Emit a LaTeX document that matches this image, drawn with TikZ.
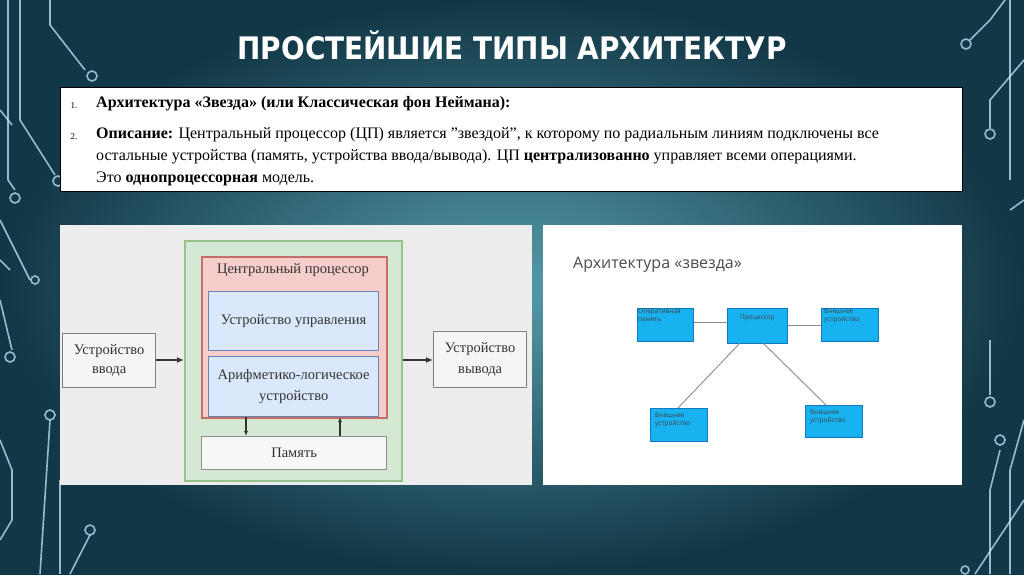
\documentclass[tikz,border=0pt]{standalone}
\usepackage{fontspec}
\setmainfont{Liberation Serif}
\newfontfamily\sansf{Open Sans}
\newfontfamily\titlef{DejaVu Sans Condensed}
\usetikzlibrary{arrows.meta}
\begin{document}
\begin{tikzpicture}[x=1pt,y=-1pt,
  sbox/.style={fill={rgb,255:red,25;green,178;blue,240},draw={rgb,255:red,20;green,120;blue,190},line width=0.8pt},
  tiny/.style={font=\sansf\fontsize{6.5}{8}\selectfont,text=black!75,align=left,anchor=north west,inner sep=1pt},
  lbl/.style={font=\fontsize{14.5}{17}\selectfont,text=black!80,align=center},
  circ/.style={draw=cyan!30!white!80,line width=1.6pt,fill=none},
  arr/.style={-{Latex[length=7pt,width=6pt]},line width=1.8pt,draw=black!80},
  conn/.style={draw=black!45,line width=0.9pt}]
\useasboundingbox (0,0) rectangle (1024,574);
\shade[inner color={rgb,255:red,85;green,155;blue,170},outer color={rgb,255:red,18;green,55;blue,70}]
  (0,0) rectangle (1024,574);
% circuit decorations
\begin{scope}[circ,draw opacity=0.75]
\draw (50,0) -- (50,25) -- (85,70); \draw (92,76) circle (5);
\draw (20,0) -- (20,120) -- (55,175); \draw (58,181) circle (5);
\draw (8,0) -- (8,180) -- (15,190); \draw (15,198) circle (5);
\draw (0,110) -- (12,125); \draw (0,300) -- (12,350); \draw (10,357) circle (5);
\draw (0,440) -- (12,470) -- (12,520) -- (0,540);
\draw (0,260) -- (10,270);
\draw (60,480) -- (60,574); \draw (50,415) circle (5); \draw (50,420) -- (40,574);
\draw (90,530) circle (5); \draw (90,535) -- (70,574);
\draw (1005,0) -- (990,20) -- (970,40); \draw (966,44) circle (5);
\draw (1024,60) -- (990,100) -- (990,128); \draw (990,134) circle (5);
\draw (1010,0) -- (1010,180); \draw (1024,200) -- (1010,210);
\draw (990,340) -- (990,395); \draw (990,402) circle (5);
\draw (1000,450) -- (990,490) -- (990,574);
\draw (1000,440) circle (5); \draw (1024,420) -- (1010,470) -- (1010,574);
\draw (965,570) circle (4); \draw (1024,500) -- (975,574);
\draw (0,220) -- (30,280); \draw (35,280) circle (4);
\end{scope}
% title
\node[font=\titlef\bfseries\fontsize{31}{36}\selectfont,text=white] (title) at (512,45) {ПРОСТЕЙШИЕ ТИПЫ АРХИТЕКТУР};
% text box
\node[draw=black,line width=1.2pt,fill=white,minimum width=902,minimum height=104,anchor=north west,inner sep=0] (tb) at (60,87) {};
\node[anchor=north west,font=\fontsize{9}{10}\selectfont] (n1) at (67,99) {1.};
\node[anchor=north west,font=\fontsize{9}{10}\selectfont] (n2) at (67,130) {2.};
\node[anchor=north west,inner sep=0,font=\fontsize{16}{23}\selectfont,align=left] (t1) at (96,96) {\textbf{Архитектура «Звезда» (или Классическая фон Неймана):}};
\node[anchor=north west,inner sep=0,font=\fontsize{16}{22}\selectfont,align=left] (t2) at (96,127) {\textbf{Описание:} Центральный процессор (ЦП) является "звездой", к которому по радиальным линиям подключены все\\остальные устройства (память, устройства ввода/вывода). ЦП \textbf{централизованно} управляет всеми операциями.\\Это \textbf{однопроцессорная} модель.};
% left image
\fill[black!7] (60,225) rectangle (532,485);
\node[fill={rgb,255:red,213;green,232;blue,212},draw={rgb,255:red,150;green,195;blue,140},line width=1.5pt,minimum width=217,minimum height=240,anchor=north west,inner sep=0] (green) at (184,240) {};
\node[fill={rgb,255:red,245;green,205;blue,203},draw={rgb,255:red,195;green,110;blue,105},line width=1.5pt,minimum width=185,minimum height=161,anchor=north west,inner sep=0] (red) at (201,256) {};
\node[lbl] (cpt) at (293,270) {Центральный процессор};
\node[fill={rgb,255:red,218;green,232;blue,252},draw={rgb,255:red,110;green,130;blue,180},line width=1.3pt,minimum width=170,minimum height=59,anchor=north west,inner sep=0] (cu) at (208,291) {};
\node[lbl] at (cu.center) {Устройство управления};
\node[fill={rgb,255:red,218;green,232;blue,252},draw={rgb,255:red,110;green,130;blue,180},line width=1.3pt,minimum width=170,minimum height=60,anchor=north west,inner sep=0] (alu) at (208,356) {};
\node[lbl,font=\fontsize{14.5}{21}\selectfont] at (alu.center) {Арифметико-логическое\\устройство};
\node[fill=black!3,draw=black!45,line width=1.3pt,minimum width=185,minimum height=33,anchor=north west,inner sep=0] (mem) at (201,436) {};
\node[lbl] at (mem.center) {Память};
\node[fill=black!4,draw=black!50,line width=1.3pt,minimum width=93,minimum height=54,anchor=north west,inner sep=0] (in) at (62,333) {};
\node[lbl,font=\fontsize{14.5}{19}\selectfont] at (in.center) {Устройство\\ввода};
\node[fill=black!4,draw=black!50,line width=1.3pt,minimum width=93,minimum height=56,anchor=north west,inner sep=0] (out) at (433,331) {};
\node[lbl,font=\fontsize{14.5}{21}\selectfont] at (out.center) {Устройство\\вывода};
\draw[arr] (in.east |- 0,360) -- (green.west |- 0,360);
\draw[arr] (green.east |- 0,360) -- (out.west |- 0,360);
\draw[arr,line width=1.2pt,-{Latex[length=5pt,width=4pt]}] (246,417) -- (246,436);
\draw[arr,line width=1.2pt,-{Latex[length=5pt,width=4pt]}] (340,436) -- (340,417);
% right image
\fill[white] (543,225) rectangle (962,485);
\node[anchor=west,font=\sansf\fontsize{16}{19}\selectfont,text=black!70,inner sep=0] (st) at (573,265) {Архитектура «звезда»};
\node[sbox,minimum width=56,minimum height=33,anchor=north west,inner sep=0] (ram) at (637,308) {};
\node[tiny] at (ram.north west) {Оперативная\\память};
\node[sbox,minimum width=60,minimum height=35,anchor=north west,inner sep=0] (cpu) at (727,308) {};
\node[tiny,anchor=north] at ([yshift=-6]cpu.north) {Процессор};
\node[sbox,minimum width=57,minimum height=33,anchor=north west,inner sep=0] (e1) at (821,308) {};
\node[tiny] at ([xshift=2]e1.north west) {Внешнее\\устройство};
\node[sbox,minimum width=57,minimum height=33,anchor=north west,inner sep=0] (e2) at (650,408) {};
\node[tiny] at ([xshift=4,yshift=-4]e2.north west) {Внешнее\\устройство};
\node[sbox,minimum width=57,minimum height=32,anchor=north west,inner sep=0] (e3) at (805,405) {};
\node[tiny] at ([xshift=4,yshift=-4]e3.north west) {Внешнее\\устройство};
\draw[conn] (ram.east |- 0,322) -- (cpu.west |- 0,322);
\draw[conn] (cpu.east |- 0,325) -- (e1.west |- 0,325);
\draw[conn] (740,343) -- (678,408);
\draw[conn] (763,343) -- (826,405);
\end{tikzpicture}
\end{document}
